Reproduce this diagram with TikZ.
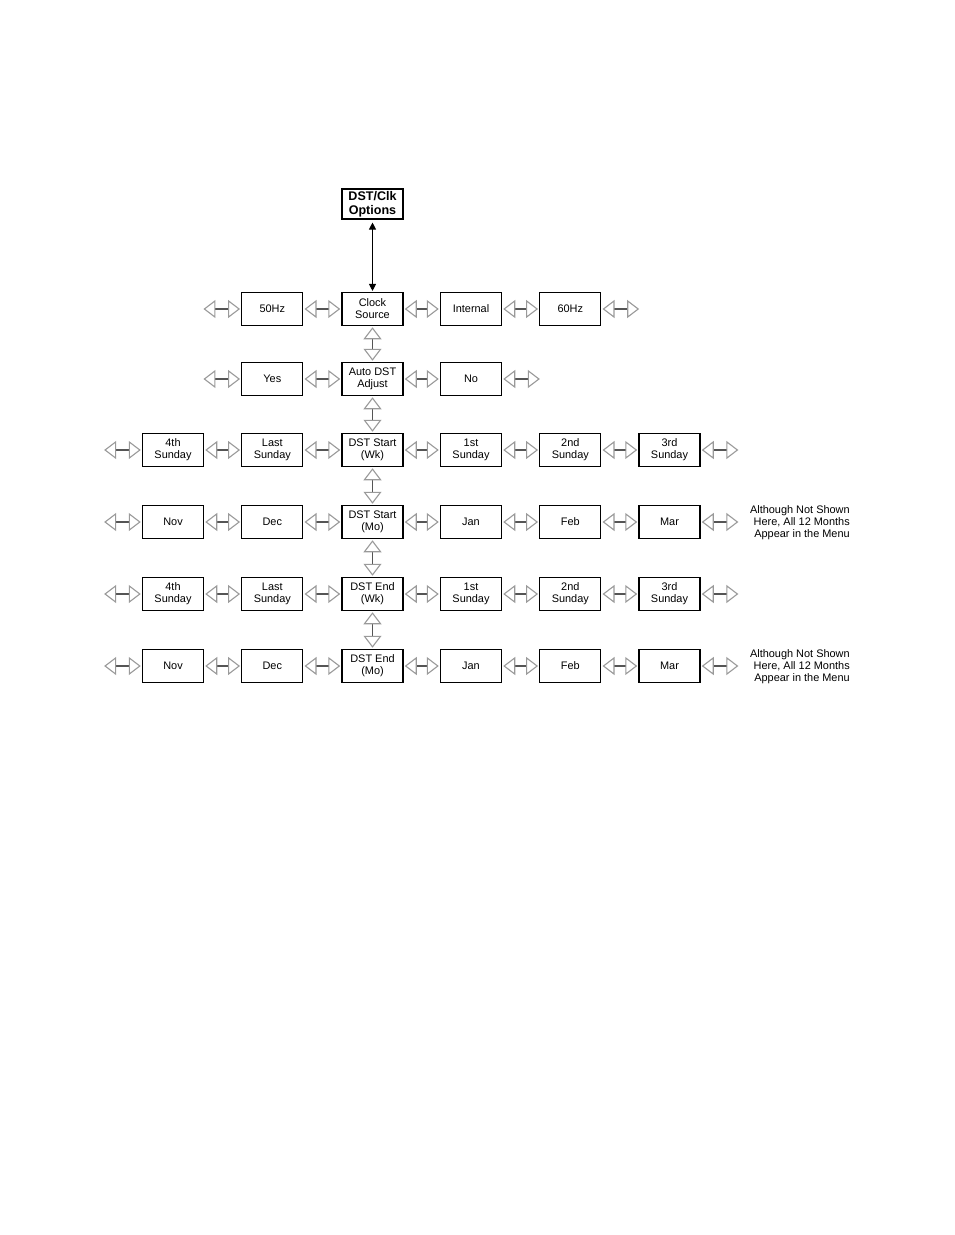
\documentclass[tikz,border=0pt]{standalone}
\usepackage{fontspec}
\setmainfont{Liberation Sans}
\usetikzlibrary{arrows.meta}
\definecolor{tipgray}{HTML}{9A9A9A}
\definecolor{bargray}{HTML}{555555}
\tikzset{
  menubox/.style={draw=black, line width=0.825pt, fill=white, minimum width=45.75pt, minimum height=24.75pt,
    inner sep=0pt, align=center, font=\fontsize{8.2}{9}\selectfont},
  topbox/.style={menubox, minimum height=22.5pt, font=\fontsize{9.4}{10.5}\selectfont\bfseries},
  dbl/.style={draw=bargray, line width=1.35pt, shorten <=0.9pt, shorten >=0.9pt,
    {Triangle[open, length=9pt, width=13.5pt, color=tipgray, line width=0.825pt]}-{Triangle[open, length=9pt, width=13.5pt, color=tipgray, line width=0.825pt]}},
  nav/.style={draw=black, line width=0.7pt, shorten <=2.25pt, shorten >=0.75pt,
    {Triangle[length=5.25pt, width=5.25pt]}-{Triangle[length=5.25pt, width=5.25pt]}},
  note/.style={anchor=east, align=right, inner sep=0pt, font=\fontsize{8.2}{9}\selectfont}
}
\begin{document}
\begin{tikzpicture}[x=0.75pt, y=-0.75pt]
\useasboundingbox[fill=white] (0,0) rectangle (954,1235);
% top
\node[topbox] (opt) at (372.5,204) {DST/Clk\\Options};
% row 1
\node[menubox] (r1a) at (272.3,309) {50Hz};
\node[menubox] (r1b) at (372.5,309) {Clock\\Source};
\node[menubox] (r1c) at (471,309) {Internal};
\node[menubox] (r1d) at (570.3,309) {60Hz};
% row 2
\node[menubox] (r2a) at (272.3,379) {Yes};
\node[menubox] (r2b) at (372.5,379) {Auto DST\\Adjust};
\node[menubox] (r2c) at (471,379) {No};
% row 3
\node[menubox] (r3a) at (173,450) {4th\\Sunday};
\node[menubox] (r3b) at (272.3,450) {Last\\Sunday};
\node[menubox] (r3c) at (372.5,450) {DST Start\\(Wk)};
\node[menubox] (r3d) at (471,450) {1st\\Sunday};
\node[menubox] (r3e) at (570.3,450) {2nd\\Sunday};
\node[menubox] (r3f) at (669.5,450) {3rd\\Sunday};
% row 4
\node[menubox] (r4a) at (173,522) {Nov};
\node[menubox] (r4b) at (272.3,522) {Dec};
\node[menubox] (r4c) at (372.5,522) {DST Start\\(Mo)};
\node[menubox] (r4d) at (471,522) {Jan};
\node[menubox] (r4e) at (570.3,522) {Feb};
\node[menubox] (r4f) at (669.5,522) {Mar};
% row 5
\node[menubox] (r5a) at (173,594) {4th\\Sunday};
\node[menubox] (r5b) at (272.3,594) {Last\\Sunday};
\node[menubox] (r5c) at (372.5,594) {DST End\\(Wk)};
\node[menubox] (r5d) at (471,594) {1st\\Sunday};
\node[menubox] (r5e) at (570.3,594) {2nd\\Sunday};
\node[menubox] (r5f) at (669.5,594) {3rd\\Sunday};
% row 6
\node[menubox] (r6a) at (173,666) {Nov};
\node[menubox] (r6b) at (272.3,666) {Dec};
\node[menubox] (r6c) at (372.5,666) {DST End\\(Mo)};
\node[menubox] (r6d) at (471,666) {Jan};
\node[menubox] (r6e) at (570.3,666) {Feb};
\node[menubox] (r6f) at (669.5,666) {Mar};
% notes
\node[note] (n1) at (850,523) {Although Not Shown\\Here, All 12 Months\\Appear in the Menu};
\node[note] (n2) at (850,667) {Although Not Shown\\Here, All 12 Months\\Appear in the Menu};
% free ends
\coordinate (r1L) at ([xshift=-29.25pt]r1a.west);
\coordinate (r1R) at ([xshift=29.25pt]r1d.east);
\coordinate (r2L) at ([xshift=-29.25pt]r2a.west);
\coordinate (r2R) at ([xshift=29.25pt]r2c.east);
\foreach \r in {3,4,5,6} {
  \coordinate (r\r L) at ([xshift=-29.25pt]r\r a.west);
  \coordinate (r\r R) at ([xshift=29.25pt]r\r f.east);
}
% connectors
\draw[nav] (opt.south) -- (r1b.north);
\draw[dbl] (r1L) -- (r1a.west);
\draw[dbl] (r1a.east) -- (r1b.west);
\draw[dbl] (r1b.east) -- (r1c.west);
\draw[dbl] (r1c.east) -- (r1d.west);
\draw[dbl] (r1d.east) -- (r1R);
\draw[dbl] (r2L) -- (r2a.west);
\draw[dbl] (r2a.east) -- (r2b.west);
\draw[dbl] (r2b.east) -- (r2c.west);
\draw[dbl] (r2c.east) -- (r2R);
\foreach \r in {3,4,5,6} {
  \draw[dbl] (r\r L) -- (r\r a.west);
  \draw[dbl] (r\r a.east) -- (r\r b.west);
  \draw[dbl] (r\r b.east) -- (r\r c.west);
  \draw[dbl] (r\r c.east) -- (r\r d.west);
  \draw[dbl] (r\r d.east) -- (r\r e.west);
  \draw[dbl] (r\r e.east) -- (r\r f.west);
  \draw[dbl] (r\r f.east) -- (r\r R);
}
\draw[dbl] (r1b.south) -- (r2b.north);
\draw[dbl] (r2b.south) -- (r3c.north);
\draw[dbl] (r3c.south) -- (r4c.north);
\draw[dbl] (r4c.south) -- (r5c.north);
\draw[dbl] (r5c.south) -- (r6c.north);
\end{tikzpicture}
\end{document}
